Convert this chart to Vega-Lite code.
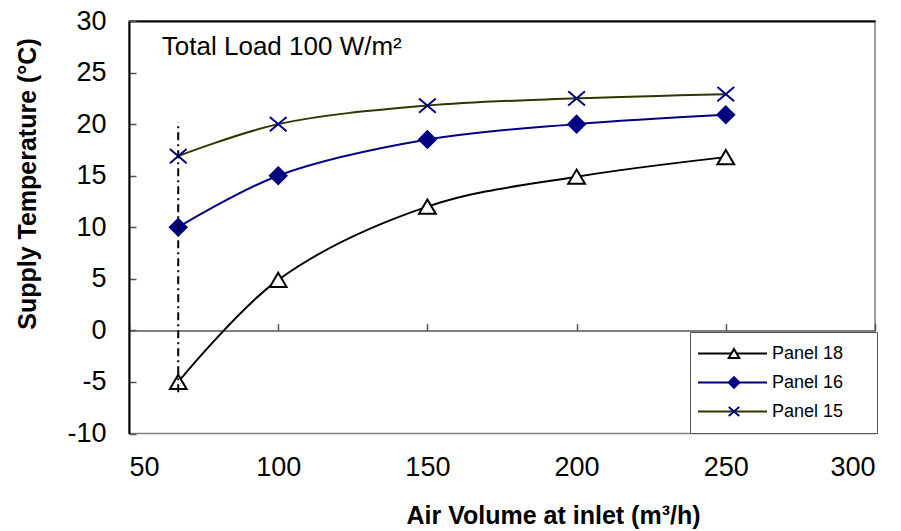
{
  "$schema": "https://vega.github.io/schema/vega-lite/v6.json",
  "width": 746,
  "height": 412.5,
  "autosize": {"type": "none"},
  "padding": {"left": 129, "top": 21, "right": 26, "bottom": 97.5},
  "config": {
    "font": "Liberation Sans",
    "view": {"stroke": "#808080", "strokeWidth": 1.5},
    "axis": {"grid": false}
  },
  "data": {
    "values": [
      {"Air": 66.5, "Temp": -5, "Panel": "Panel 18", "Series": "18"},
      {"Air": 100, "Temp": 4.9, "Panel": "Panel 18", "Series": "18"},
      {"Air": 150, "Temp": 12, "Panel": "Panel 18", "Series": "18"},
      {"Air": 200, "Temp": 14.9, "Panel": "Panel 18", "Series": "18"},
      {"Air": 250, "Temp": 16.8, "Panel": "Panel 18", "Series": "18"},
      {"Air": 66.5, "Temp": 10, "Panel": "Panel 16", "Series": "16"},
      {"Air": 100, "Temp": 15, "Panel": "Panel 16", "Series": "16"},
      {"Air": 150, "Temp": 18.5, "Panel": "Panel 16", "Series": "16"},
      {"Air": 200, "Temp": 20, "Panel": "Panel 16", "Series": "16"},
      {"Air": 250, "Temp": 20.9, "Panel": "Panel 16", "Series": "16"},
      {"Air": 66.5, "Temp": 16.9, "Panel": "Panel 15", "Series": "15"},
      {"Air": 100, "Temp": 20, "Panel": "Panel 15", "Series": "15"},
      {"Air": 150, "Temp": 21.8, "Panel": "Panel 15", "Series": "15"},
      {"Air": 200, "Temp": 22.5, "Panel": "Panel 15", "Series": "15"},
      {"Air": 250, "Temp": 22.9, "Panel": "Panel 15", "Series": "15"}
    ]
  },
  "resolve": {"axis": {"x": "independent"}},
  "layer": [
    {
      "mark": {"type": "line", "interpolate": "catmull-rom", "strokeWidth": 2},
      "encoding": {
        "x": {
          "field": "Air", "type": "quantitative",
          "scale": {"domain": [50, 300], "nice": false, "zero": false},
          "axis": {
            "orient": "bottom", "domain": false, "ticks": false,
            "values": [50, 100, 150, 200, 250, 300],
            "labelFontSize": 27, "labelColor": "#000000", "labelPadding": 21,
            "title": "Air Volume at inlet  (m³/h)",
            "titleFontSize": 25, "titleFontWeight": "bold", "titleColor": "#000000",
            "titleX": 424, "titleY": 90, "titleAlign": "center", "titleBaseline": "alphabetic"
          }
        },
        "y": {
          "field": "Temp", "type": "quantitative",
          "scale": {"domain": [-10, 30], "nice": false, "zero": false},
          "axis": {
            "orient": "left", "values": [-10, -5, 0, 5, 10, 15, 20, 25, 30],
            "labelExpr": "'' + datum.value",
            "domainColor": "#000000", "domainWidth": 2,
            "tickSize": -7, "tickColor": "#555555", "tickWidth": 1.5,
            "labelFontSize": 27, "labelColor": "#000000", "labelPadding": 30,
            "title": "Supply Temperature (°C)",
            "titleFontSize": 25, "titleFontWeight": "bold", "titleColor": "#000000",
            "titleX": -102, "titleY": 162.5, "titleAlign": "center", "titleBaseline": "middle", "titleAngle": -90
          }
        },
        "color": {
          "field": "Panel", "type": "nominal",
          "scale": {"domain": ["Panel 18", "Panel 16", "Panel 15"], "range": ["#000000", "#000080", "#333300"]},
          "legend": {
            "orient": "none", "legendX": 561, "legendY": 311, "title": null,
            "padding": 7, "strokeColor": "#555555", "fillColor": "#ffffff",
            "symbolType": "stroke", "symbolSize": 4761, "symbolStrokeWidth": 2,
            "clipHeight": 29, "rowPadding": 0,
            "labelFontSize": 18, "labelColor": "#000000", "labelOffset": 4, "labelLimit": 300,
            "labelExpr": "datum.label + '\u2800\u2800'"
          }
        }
      }
    },
    {
      "mark": {"type": "point", "size": 280, "strokeWidth": 2, "opacity": 1, "fillOpacity": 1, "strokeOpacity": 1},
      "encoding": {
        "x": {
          "field": "Air", "type": "quantitative",
          "axis": {
            "orient": "bottom", "offset": -103.125, "labels": false, "title": null,
            "values": [50, 100, 150, 200, 250, 300],
            "tickSize": -7, "tickColor": "#555555", "tickWidth": 1.5,
            "domainColor": "#555555", "domainWidth": 1.5
          }
        },
        "y": {"field": "Temp", "type": "quantitative"},
        "shape": {
          "field": "Series", "type": "nominal",
          "scale": {"domain": ["18", "16", "15"], "range": ["M0,-0.85L1,0.85L-1,0.85Z", "M0,-1L1,0L0,1L-1,0Z", "M-1,-0.85L1,0.85M-1,0.85L1,-0.85"]},
          "legend": {
            "orient": "none", "legendX": 589, "legendY": 311, "title": null,
            "padding": 7, "symbolSize": 110, "symbolStrokeWidth": 2,
            "clipHeight": 29, "rowPadding": 0, "labelOpacity": 0, "labelFontSize": 18
          }
        },
        "stroke": {
          "field": "Series", "type": "nominal",
          "scale": {"domain": ["18", "16", "15"], "range": ["#000000", "#000080", "#000080"]},
          "legend": {
            "orient": "none", "legendX": 589, "legendY": 311, "title": null,
            "padding": 7, "symbolSize": 110, "symbolStrokeWidth": 2,
            "clipHeight": 29, "rowPadding": 0, "labelOpacity": 0, "labelFontSize": 18
          }
        },
        "fill": {
          "field": "Series", "type": "nominal",
          "scale": {"domain": ["18", "16", "15"], "range": ["#ffffff", "#000080", "transparent"]},
          "legend": {
            "orient": "none", "legendX": 589, "legendY": 311, "title": null,
            "padding": 7, "symbolSize": 110, "symbolStrokeWidth": 2,
            "clipHeight": 29, "rowPadding": 0, "labelOpacity": 0, "labelFontSize": 18
          }
        }
      }
    },
    {
      "data": {"values": [{"Air": 66.5, "Temp": -6, "Temp2": 20.2}]},
      "mark": {"type": "rule", "stroke": "#000000", "strokeWidth": 2, "strokeDash": [8, 4, 2, 4]},
      "encoding": {
        "x": {
          "field": "Air", "type": "quantitative",
          "axis": {"orient": "top", "labels": false, "ticks": false, "title": null, "domainColor": "#000000", "domainWidth": 2}
        },
        "y": {"field": "Temp", "type": "quantitative"},
        "y2": {"field": "Temp2"}
      }
    },
    {
      "data": {"values": [{"Air": 61, "Temp": 26.7, "label": "Total Load 100 W/m²"}]},
      "mark": {"type": "text", "align": "left", "baseline": "alphabetic", "fontSize": 26, "color": "#000000"},
      "encoding": {
        "x": {"field": "Air", "type": "quantitative", "axis": null},
        "y": {"field": "Temp", "type": "quantitative"},
        "text": {"field": "label"}
      }
    }
  ]
}
